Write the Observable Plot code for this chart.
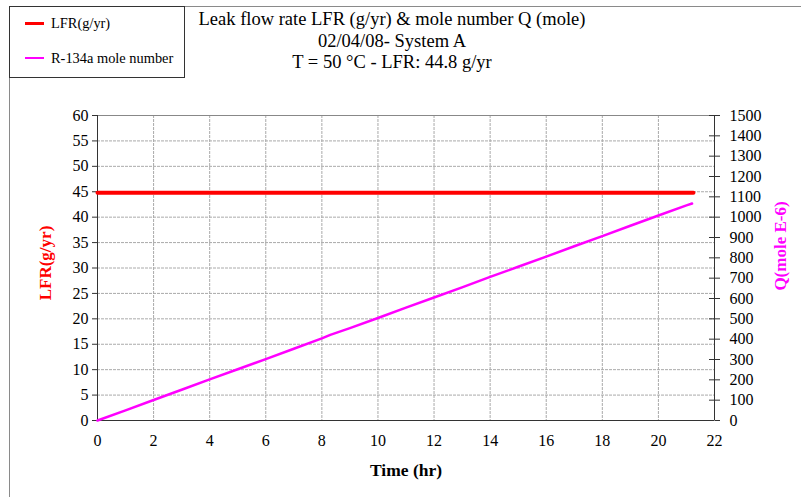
<!DOCTYPE html>
<html>
<head>
<meta charset="utf-8">
<script src="https://cdn.jsdelivr.net/npm/d3@7"></script>
<script src="https://cdn.jsdelivr.net/npm/@observablehq/plot@0.6"></script>
<style>
  body { margin: 0; background: #fff; }
  #wrap { position: relative; width: 801px; height: 497px; overflow: hidden; font-family: "Liberation Serif", "Times New Roman", serif; }
  #outer { position: absolute; left: 9px; top: 6px; width: 900px; height: 600px; border-top: 1px solid #8a8a8a; border-left: 1px solid #8a8a8a; }
  #legend { position: absolute; left: 9px; top: 6px; width: 174px; height: 70px; border: 1px solid #333; background: #fff; font-size: 14.4px; z-index: 2; }
  #legend .row { position: absolute; left: 15px; display: flex; align-items: center; line-height: 16px; }
  #legend .sw { width: 19px; height: 0; margin-right: 7px; }
  #title { position: absolute; left: 172px; width: 440px; top: 9px; text-align: center; font-size: 18.5px; line-height: 21.5px; color: #000; z-index: 2; }
  #chart { position: absolute; left: 0; top: 0; }
</style>
</head>
<body>
<div id="wrap">
  <div id="outer"></div>
  <div id="legend">
    <div class="row" style="top:8px"><span class="sw" style="border-top:3px solid #ff0000"></span>LFR(g/yr)</div>
    <div class="row" style="top:43px"><span class="sw" style="border-top:2px solid #ff00ff"></span>R-134a mole number</div>
  </div>
  <div id="title">Leak flow rate LFR (g/yr) &amp; mole number Q (mole)<br>02/04/08- System A<br>T = 50 °C - LFR: 44.8 g/yr</div>
  <div id="chart"></div>
</div>
<script>
// Leak flow rate (constant) and cumulative R-134a mole number vs time
const lfrTime = [0, 21.25];
const lfrValue = [44.8, 44.8];

const qTime = [0, 1, 2, 3, 4, 5, 6, 7, 8, 8.3, 9, 10, 11, 12, 13, 14, 15, 16, 17, 18, 19, 20, 21, 21.2];
const qValue = [0, 50, 101, 151, 202, 252, 302, 353, 404, 421, 454, 504, 555, 605, 655, 706, 756, 806, 857, 907, 958, 1008, 1058, 1067];

const xTicks = [0, 2, 4, 6, 8, 10, 12, 14, 16, 18, 20, 22];
const yTicks = [0, 5, 10, 15, 20, 25, 30, 35, 40, 45, 50, 55, 60];
const qTicks = [0, 100, 200, 300, 400, 500, 600, 700, 800, 900, 1000, 1100, 1200, 1300, 1400, 1500];

// right axis (Q, 1e-6 mole) shares the plot with the left axis: 1500 ↔ 60
const qToY = q => q / 25;

const lfrData = lfrTime.map((t, i) => ({t, v: lfrValue[i]}));
const qData = qTime.map((t, i) => ({t, v: qToY(qValue[i])}));

const chart = Plot.plot({
  width: 801,
  height: 497,
  marginLeft: 97,
  marginRight: 87,
  marginTop: 115,
  marginBottom: 77,
  style: {fontFamily: "Liberation Serif, Times New Roman, serif", fontSize: "16px", color: "#000", background: "transparent"},
  x: {domain: [0, 22]},
  y: {domain: [0, 60]},
  marks: [
    Plot.gridY(yTicks, {stroke: "#aaa", strokeOpacity: 1, strokeDasharray: "3,1"}),
    Plot.gridX(xTicks, {stroke: "#aaa", strokeOpacity: 1, strokeDasharray: "3,1"}),
    Plot.frame({stroke: "#888"}),
    Plot.ruleX([0], {stroke: "#333"}),
    Plot.ruleY([0], {stroke: "#333"}),
    Plot.ruleX([22], {stroke: "#333"}),
    Plot.axisX(xTicks, {tickSize: 0, tickPadding: 14, fontSize: 16, label: null}),
    Plot.axisY(yTicks, {tickSize: 5, tickPadding: 4, fontSize: 16, label: null, stroke: "#333"}),
    Plot.axisY(qTicks.map(qToY), {anchor: "right", tickSize: 5, tickPadding: 10, fontSize: 16, label: null, stroke: "#333", tickFormat: v => String(Math.round(v * 25))}),
    // inward half of the right-axis cross ticks
    Plot.ruleY(qTicks.map(qToY), {x1: 22 - 5 * 22 / 617, x2: 22, stroke: "#333"}),
    Plot.line(qData, {x: "t", y: "v", stroke: "#ff00ff", strokeWidth: 2.5}),
    Plot.line(lfrData, {x: "t", y: "v", stroke: "#ff0000", strokeWidth: 4}),
    Plot.text(["Time (hr)"], {frameAnchor: "bottom", dy: 55, fontWeight: "bold", fontSize: 17.5, fill: "#000"}),
    Plot.text(["LFR(g/yr)"], {frameAnchor: "left", textAnchor: "middle", dx: -52, dy: -5, rotate: -90, fontWeight: "bold", fontSize: 17, fill: "#ff0000"}),
    Plot.text(["Q(mole E-6)"], {frameAnchor: "right", textAnchor: "middle", dx: 66, dy: -22, rotate: -90, fontWeight: "bold", fontSize: 17, fill: "#ff00ff"})
  ]
});
document.getElementById("chart").appendChild(chart);
</script>
</body>
</html>
